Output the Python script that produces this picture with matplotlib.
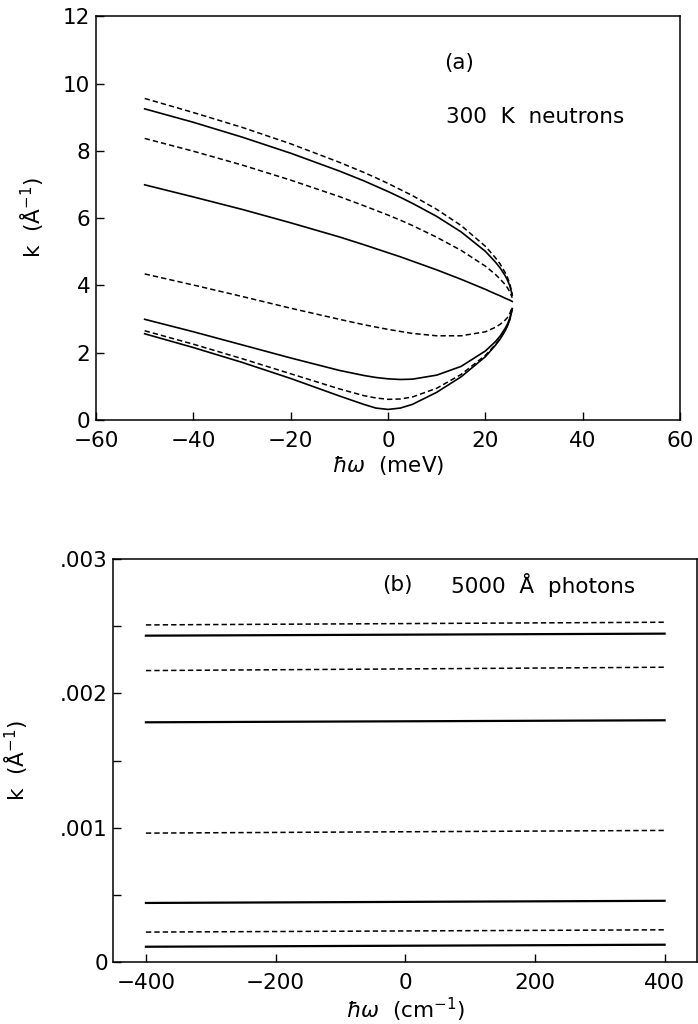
import matplotlib
matplotlib.use("Agg")
import matplotlib.pyplot as plt
from matplotlib.ticker import MultipleLocator

# panel (a): 300 K neutrons, k vs hbar*omega (meV)
w_mev = [-50, -40, -30, -20, -10, -5, -2.5, 0, 2.5, 5, 10, 15, 20, 22, 23, 24, 24.5, 25, 25.5]
k_5 = [2.56, 2.15, 1.71, 1.23, 0.71, 0.46, 0.35, 0.31, 0.35, 0.46, 0.82, 1.28, 1.88, 2.21, 2.40, 2.64, 2.79, 2.98, 3.30]
k_10 = [2.65, 2.25, 1.82, 1.37, 0.92, 0.72, 0.65, 0.61, 0.62, 0.68, 0.94, 1.35, 1.92, 2.23, 2.42, 2.65, 2.80, 2.99, 3.30]
k_20 = [2.99, 2.62, 2.23, 1.84, 1.47, 1.32, 1.26, 1.22, 1.20, 1.21, 1.33, 1.59, 2.05, 2.32, 2.49, 2.71, 2.84, 3.02, 3.31]
k_45 = [4.34, 4.01, 3.67, 3.32, 2.99, 2.83, 2.76, 2.69, 2.63, 2.57, 2.50, 2.50, 2.62, 2.75, 2.84, 2.96, 3.04, 3.16, 3.36]
k_90 = [6.99, 6.63, 6.26, 5.86, 5.44, 5.21, 5.09, 4.97, 4.85, 4.72, 4.46, 4.18, 3.88, 3.75, 3.69, 3.62, 3.59, 3.56, 3.52]
k_120 = [8.37, 7.99, 7.58, 7.13, 6.64, 6.37, 6.23, 6.09, 5.94, 5.78, 5.43, 5.04, 4.57, 4.33, 4.19, 4.03, 3.93, 3.81, 3.63]
k_150 = [9.25, 8.85, 8.41, 7.93, 7.40, 7.11, 6.95, 6.79, 6.62, 6.44, 6.05, 5.59, 5.01, 4.70, 4.52, 4.30, 4.16, 3.99, 3.71]
k_180 = [9.56, 9.14, 8.70, 8.21, 7.66, 7.36, 7.20, 7.03, 6.85, 6.67, 6.26, 5.78, 5.16, 4.83, 4.64, 4.39, 4.24, 4.05, 3.74]
curves_a = [k_5, k_10, k_20, k_45, k_90, k_120, k_150, k_180]

# panel (b): 5000 A photons, nearly flat lines (left end, right end)
w_cm = [-400, 400]
p_5 = [0.000114, 0.000129]
p_10 = [0.000223, 0.000240]
p_20 = [0.000440, 0.000456]
p_45 = [0.000960, 0.000980]
p_90 = [0.001785, 0.001800]
p_120 = [0.002170, 0.002195]
p_150 = [0.002430, 0.002445]
p_180 = [0.002510, 0.002530]
curves_b = [p_5, p_10, p_20, p_45, p_90, p_120, p_150, p_180]

styles = ["solid", "dashed"] * 4
dash = (3.5, 2.0)
fs = 15.5

plt.rcParams["font.family"] = "DejaVu Sans"
plt.rcParams["mathtext.fontset"] = "dejavusans"

fig = plt.figure(figsize=(6.98, 10.24), dpi=100)
ax1 = fig.add_axes([0.1375, 0.590, 0.837, 0.394])
ax2 = fig.add_axes([0.1626, 0.0605, 0.836, 0.3935])

for ys, st in zip(curves_a, styles):
    if st == "dashed":
        ax1.plot(w_mev, ys, color="black", lw=1.1, dashes=dash)
    else:
        ax1.plot(w_mev, ys, color="black", lw=1.2)

for ys, st in zip(curves_b, styles):
    if st == "dashed":
        ax2.plot(w_cm, ys, color="black", lw=1.1, dashes=dash)
    else:
        ax2.plot(w_cm, ys, color="black", lw=1.6)

ax1.set_xlim(-60, 60)
ax1.set_ylim(0, 12)
ax1.set_xticks([-60, -40, -20, 0, 20, 40, 60])
ax1.set_yticks([0, 2, 4, 6, 8, 10, 12])
ax1.set_xlabel(r"$\hbar\omega$  (meV)", fontsize=fs, labelpad=2)
ax1.set_ylabel(r"k  (Å$^{-1}$)", fontsize=fs, labelpad=12)
ax1.text(11.6, 10.6, "(a)", fontsize=fs, va="center")
ax1.text(11.9, 9.0, "300  K  neutrons", fontsize=fs, va="center")

ax2.set_xlim(-450, 450)
ax2.set_ylim(0, 0.003)
ax2.set_xticks([-400, -200, 0, 200, 400])
ax2.set_yticks([0, 0.001, 0.002, 0.003])
ax2.set_yticklabels(["0", ".001", ".002", ".003"])
ax2.yaxis.set_minor_locator(MultipleLocator(0.0005))
ax2.set_xlabel(r"$\hbar\omega$  (cm$^{-1}$)", fontsize=fs, labelpad=2)
ax2.set_ylabel(r"k  (Å$^{-1}$)", fontsize=fs, labelpad=22)
ax2.text(-35, 0.00281, "(b)", fontsize=fs, va="center")
ax2.text(70, 0.00281, "5000  Å  photons", fontsize=fs, va="center")

for ax in (ax1, ax2):
    for sp in ax.spines.values():
        sp.set_linewidth(1.1)
    ax.tick_params(which="major", direction="in", length=6, width=1.0,
                   labelsize=fs, top=False, right=False, pad=4)
    ax.tick_params(which="minor", direction="in", length=6, width=1.0,
                   top=False, right=False)
    ax.tick_params(axis="x", which="major", pad=8)

fig.savefig("out.png", dpi=100)
